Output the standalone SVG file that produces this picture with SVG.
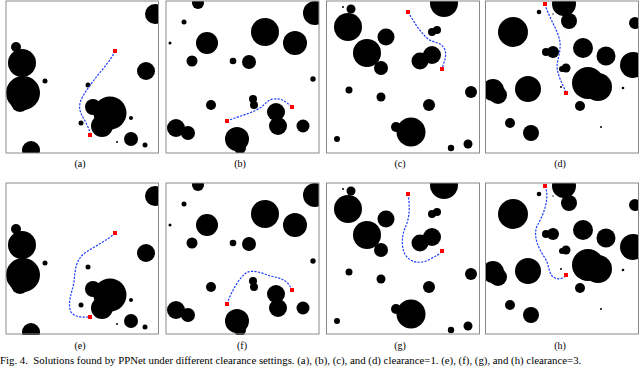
<svg xmlns="http://www.w3.org/2000/svg" xmlns:xlink="http://www.w3.org/1999/xlink" width="640" height="368" viewBox="0 0 640 368">
<style>
.frame{fill:none;stroke:#8a8a8a;stroke-width:1}
.obs circle{fill:#000}
.path{fill:none;stroke:#1f3dff;stroke-width:1.2;stroke-dasharray:2.2 1.3}
.pt{fill:#ff0000}
.lbl{font-family:"Liberation Serif","Times New Roman",serif;font-size:10px;fill:#000;text-anchor:middle}
.cap{font-family:"Liberation Serif","Times New Roman",serif;font-size:10.8px;fill:#000}
</style>
<defs>
<clipPath id="cA"><rect x="6" y="1" width="152.5" height="152"/></clipPath>
<clipPath id="cB"><rect x="166" y="1" width="153" height="152"/></clipPath>
<clipPath id="cC"><rect x="326.5" y="1" width="153" height="152"/></clipPath>
<clipPath id="cD"><rect x="485.5" y="1" width="153" height="152"/></clipPath>
<g id="oA" class="obs">
<circle cx="155" cy="14" r="10"/><circle cx="16" cy="47" r="5"/><circle cx="22" cy="63" r="14"/>
<circle cx="23" cy="93" r="17"/><circle cx="20" cy="103" r="9"/><circle cx="45" cy="81" r="2.5"/>
<circle cx="146" cy="71" r="9"/><circle cx="88" cy="85" r="2.5"/><circle cx="110" cy="113" r="16.5"/>
<circle cx="93" cy="107" r="8"/><circle cx="102" cy="126" r="11"/><circle cx="81" cy="123" r="2.5"/>
<circle cx="131" cy="118" r="2"/><circle cx="131" cy="139" r="7"/><circle cx="145" cy="145" r="2.5"/>
<circle cx="117" cy="142" r="1"/><circle cx="31" cy="150" r="9"/>
</g>
<g id="oB" class="obs">
<circle cx="198" cy="3" r="6"/><circle cx="315" cy="13" r="12"/><circle cx="184" cy="22" r="2.5"/>
<circle cx="170" cy="43" r="1.5"/><circle cx="207" cy="43" r="11"/><circle cx="265" cy="32" r="14"/>
<circle cx="295" cy="43" r="12"/><circle cx="192" cy="61" r="5.5"/><circle cx="233" cy="61" r="3.3"/>
<circle cx="249" cy="62" r="7"/><circle cx="313" cy="79" r="2.7"/><circle cx="253" cy="99" r="4"/>
<circle cx="254" cy="105" r="4"/><circle cx="211" cy="105" r="5"/><circle cx="276" cy="112" r="9"/>
<circle cx="278" cy="126" r="9"/><circle cx="303" cy="126" r="6.5"/><circle cx="176" cy="128" r="9"/>
<circle cx="188" cy="133" r="7"/><circle cx="237" cy="139" r="12"/><circle cx="240" cy="148" r="6"/>
</g>
<g id="oC" class="obs">
<circle cx="343" cy="7" r="1"/><circle cx="351" cy="9" r="4.5"/><circle cx="444" cy="3" r="14"/>
<circle cx="348" cy="27" r="14"/><circle cx="386" cy="37" r="8.5"/><circle cx="367" cy="53" r="14"/>
<circle cx="381" cy="68" r="7"/><circle cx="432" cy="32" r="4"/><circle cx="437" cy="30" r="4"/>
<circle cx="420" cy="61" r="8.5"/><circle cx="432" cy="55" r="9"/><circle cx="349" cy="90" r="3.5"/>
<circle cx="381" cy="97" r="4.5"/><circle cx="471" cy="92" r="6"/><circle cx="429" cy="105" r="6"/>
<circle cx="411" cy="132" r="14.5"/><circle cx="396" cy="127" r="5"/><circle cx="337" cy="139" r="3"/>
<circle cx="451" cy="148" r="3.2"/><circle cx="468" cy="144" r="4.5"/>
</g>
<g id="oD" class="obs">
<circle cx="564" cy="4" r="12"/><circle cx="539" cy="12" r="2.3"/><circle cx="553" cy="14" r="0.7"/>
<circle cx="569" cy="21" r="8"/><circle cx="635" cy="23" r="6"/><circle cx="513" cy="32" r="15"/>
<circle cx="583" cy="48" r="10"/><circle cx="553" cy="52" r="6"/><circle cx="546" cy="52" r="4"/>
<circle cx="606" cy="56" r="9.5"/><circle cx="633" cy="65" r="13"/><circle cx="566" cy="68" r="4.5"/>
<circle cx="562" cy="69" r="3"/><circle cx="588" cy="83" r="16"/><circle cx="598" cy="87" r="14"/>
<circle cx="493" cy="90" r="11"/><circle cx="498" cy="95" r="9"/><circle cx="528" cy="89" r="13"/>
<circle cx="561" cy="87" r="1"/><circle cx="623" cy="88" r="1.3"/><circle cx="580" cy="106" r="5"/>
<circle cx="510" cy="123" r="5"/><circle cx="531" cy="133" r="8"/><circle cx="601" cy="127" r="1"/>
</g>
</defs>

<g id="panel-a">
<g clip-path="url(#cA)"><use xlink:href="#oA"/></g>
<rect class="frame" x="6" y="1" width="152.5" height="152"/>
<path class="path" d="M115,51 C110,62 100,72 94,80 C88,88 82,96 80,103 C78,112 84,118 87,125 C89,129 90,132 90,135"/>
<rect class="pt" x="113" y="49" width="4" height="4"/><rect class="pt" x="88" y="133" width="4" height="4"/>
<text class="lbl" x="80" y="167">(a)</text>
</g>
<g id="panel-b">
<g clip-path="url(#cB)"><use xlink:href="#oB"/></g>
<rect class="frame" x="166" y="1" width="153" height="152"/>
<path class="path" d="M227,121 C236,117 250,114 260,108 C266,104 268,99 274,99 C282,98 286,102 292,107"/>
<rect class="pt" x="225" y="119" width="4" height="4"/><rect class="pt" x="290" y="105" width="4" height="4"/>
<text class="lbl" x="240" y="167">(b)</text>
</g>
<g id="panel-c">
<g clip-path="url(#cC)"><use xlink:href="#oC"/></g>
<rect class="frame" x="326.5" y="1" width="153" height="152"/>
<path class="path" d="M408,12 C414,22 420,32 428,39 C434,43 442,42 445,50 C447,56 444,62 442,69"/>
<rect class="pt" x="406" y="10" width="4" height="4"/><rect class="pt" x="440" y="67" width="4" height="4"/>
<text class="lbl" x="400" y="167">(c)</text>
</g>
<g id="panel-d">
<g clip-path="url(#cD)"><use xlink:href="#oD"/></g>
<rect class="frame" x="485.5" y="1" width="153" height="152"/>
<path class="path" d="M545,4 C548,16 558,30 560,42 C561,52 557,60 557,67 C558,78 564,86 566,93"/>
<rect class="pt" x="543" y="2" width="4" height="4"/><rect class="pt" x="564" y="91" width="4" height="4"/>
<text class="lbl" x="560" y="167">(d)</text>
</g>

<g id="panel-e">
<g transform="translate(0,182)" clip-path="url(#cA)"><use xlink:href="#oA"/></g>
<rect class="frame" x="6" y="183" width="152.5" height="151"/>
<path class="path" d="M115,233 C108,240 95,246 85,253 C76,259 75,270 74,282 C72,293 67,303 71,312 C75,318 83,317 90,317"/>
<rect class="pt" x="113" y="231" width="4" height="4"/><rect class="pt" x="88" y="315" width="4" height="4"/>
<text class="lbl" x="80" y="349">(e)</text>
</g>
<g id="panel-f">
<g transform="translate(0,182)" clip-path="url(#cB)"><use xlink:href="#oB"/></g>
<rect class="frame" x="166" y="183" width="153" height="151"/>
<path class="path" d="M227,304 C231,293 238,279 246,273 C252,269 262,273 270,276 C280,278 287,279 292,290"/>
<rect class="pt" x="225" y="302" width="4" height="4"/><rect class="pt" x="290" y="288" width="4" height="4"/>
<text class="lbl" x="242" y="349">(f)</text>
</g>
<g id="panel-g">
<g transform="translate(0,182)" clip-path="url(#cC)"><use xlink:href="#oC"/></g>
<rect class="frame" x="326.5" y="183" width="153" height="151"/>
<path class="path" d="M408,194 C410,205 410,218 405,228 C401,238 401,252 408,258 C414,264 424,263 430,259 C436,256 440,254 442,251"/>
<rect class="pt" x="406" y="192" width="4" height="4"/><rect class="pt" x="440" y="249" width="4" height="4"/>
<text class="lbl" x="400" y="349">(g)</text>
</g>
<g id="panel-h">
<g transform="translate(0,182)" clip-path="url(#cD)"><use xlink:href="#oD"/></g>
<rect class="frame" x="485.5" y="183" width="153" height="151"/>
<path class="path" d="M545,186 C550,198 544,214 537,226 C533,236 538,248 545,258 C550,266 548,275 555,278 C559,280 564,278 566,275"/>
<rect class="pt" x="543" y="184" width="4" height="4"/><rect class="pt" x="564" y="273" width="4" height="4"/>
<text class="lbl" x="560" y="349">(h)</text>
</g>

<text class="cap" x="0" y="364" xml:space="preserve">Fig. 4.  Solutions found by PPNet under different clearance settings. (a), (b), (c), and (d) clearance=1. (e), (f), (g), and (h) clearance=3.</text>
</svg>
